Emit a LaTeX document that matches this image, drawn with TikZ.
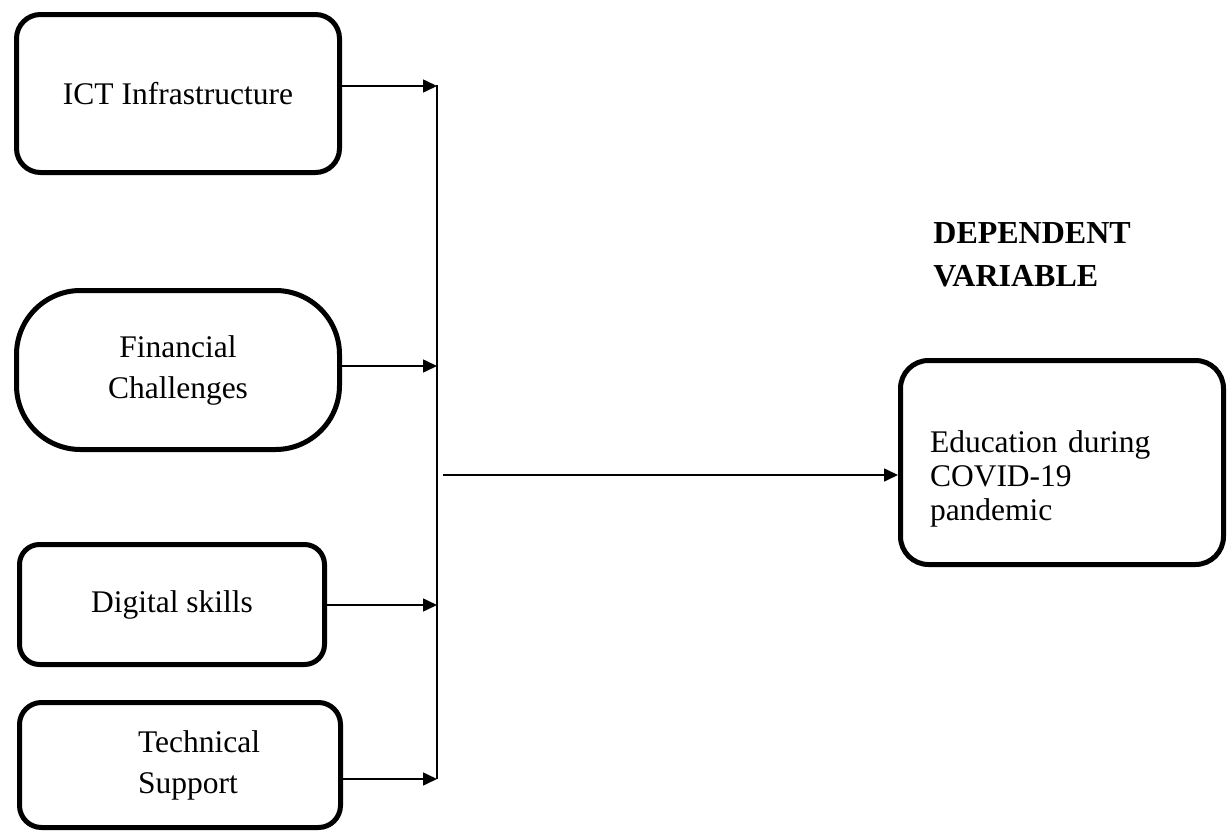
\documentclass[tikz,border=0pt]{standalone}
\usepackage{fontspec}
\setmainfont{Liberation Serif}
\usetikzlibrary{arrows.meta,positioning,calc}

\begin{document}
\begin{tikzpicture}[x=0.5pt, y=-0.5pt,
    factor/.style={draw, line width=2.5pt, rounded corners=12pt, align=center, inner sep=0pt, font=\fontsize{15.75}{20.5}\selectfont},
    arr/.style={-{Triangle[length=7pt, width=6.5pt]}, line width=0.8pt},
]
    \useasboundingbox (0,0) rectangle (1228,835);

    \node[factor, minimum width=161.5pt, minimum height=79pt] (ICT) at (178,93.5) {ICT Infrastructure};
    \node[factor, rounded corners=32pt, minimum width=161.5pt, minimum height=79.5pt] (FIN) at (178,370) {Financial\\Challenges};
    \node[factor, rounded corners=10pt, minimum width=152.5pt, minimum height=60pt] (DIG) at (172,604.5) {Digital skills};
    \node[factor, rounded corners=11pt, align=left, minimum width=160.5pt, minimum height=62.5pt] (TEC) at (180,765)
        {\hspace*{19pt}Technical\\\hspace*{19pt}Support};

    \node[factor, rounded corners=14pt, align=left, text width=132pt, inner xsep=14.75pt, minimum height=102pt,
        font=\fontsize{15.75}{17}\selectfont] (EDU) at (1062,462.5)
        {\rule{0pt}{27pt}Education during\\COVID-19\\pandemic};

    \node[font=\bfseries\fontsize{16}{21.5}\selectfont, align=left, anchor=west, inner sep=0pt] (DV) at (933,255) {DEPENDENT\\VARIABLE};

    % bus on the right of the factors
    \coordinate (top) at (437,85);
    \coordinate (bot) at (437,779);
    \coordinate (b1) at (437,86);
    \coordinate (b2) at (437,366);
    \coordinate (b3) at (437,605);
    \coordinate (b4) at (437,779);
    \coordinate (hub) at (443,475);

    \draw[line width=0.8pt] (top) -- (bot);
    \draw[arr] (ICT.east |- b1) -- (b1);
    \draw[arr] (FIN.east |- b2) -- (b2);
    \draw[arr] (DIG.east |- b3) -- (b3);
    \draw[arr] (TEC.east |- b4) -- (b4);
    \draw[arr] (hub) -- (EDU.west |- hub);
\end{tikzpicture}
\end{document}
